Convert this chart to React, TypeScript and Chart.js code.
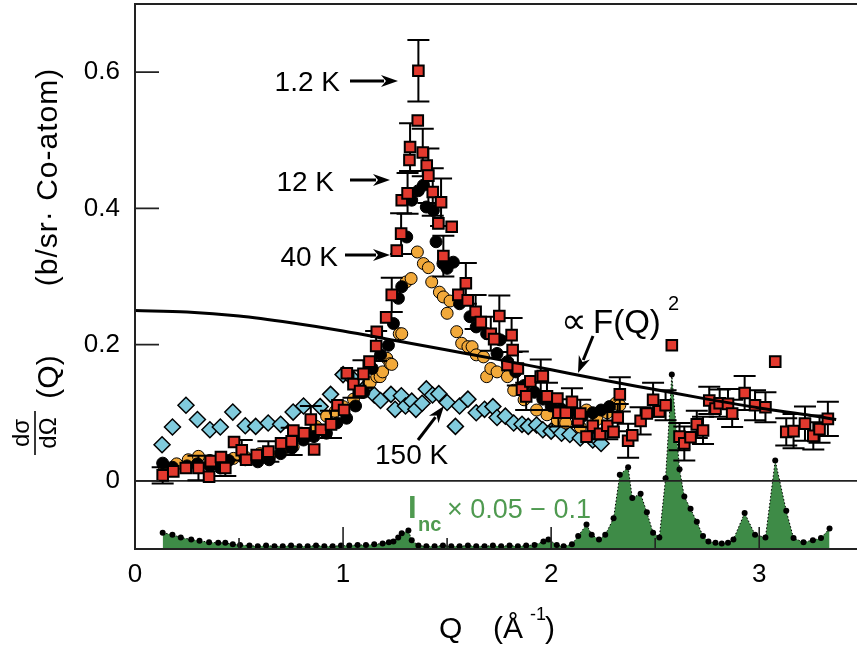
import React, { useEffect, useRef } from 'react';
import { Chart, registerables } from 'chart.js';

Chart.register(...registerables);

const FONT = '"Liberation Sans", Arial, Helvetica, sans-serif';

// axis ticks
const xTicks = [0, 1, 2, 3];
const xMinorTicks = [0.5, 1.5, 2.5];
const yTicks = [0, 0.2, 0.4, 0.6];

// 1.2 K (red squares) with error bars
const q1p2K = [0.133, 0.184, 0.244, 0.305, 0.356, 0.364, 0.413, 0.434, 0.476, 0.513, 0.534, 0.585, 0.641, 0.702, 0.753, 0.761, 0.813, 0.845, 0.861, 0.893, 0.942, 0.973, 1.005, 1.018, 1.05, 1.082, 1.098, 1.127, 1.159, 1.162, 1.207, 1.234, 1.258, 1.279, 1.282, 1.31, 1.319, 1.322, 1.359, 1.362, 1.383, 1.402, 1.41, 1.431, 1.458, 1.471, 1.482, 1.522, 1.554, 1.59, 1.599, 1.637, 1.662, 1.71, 1.726, 1.751, 1.79, 1.81, 1.815, 1.84, 1.86, 1.88, 1.9, 1.95, 1.96, 1.98, 2.03, 2.035, 2.07, 2.1, 2.13, 2.14, 2.17, 2.2, 2.235, 2.27, 2.3, 2.32, 2.33, 2.37, 2.39, 2.43, 2.46, 2.49, 2.52, 2.55, 2.58, 2.617, 2.64, 2.67, 2.7, 2.73, 2.76, 2.79, 2.81, 2.85, 2.87, 2.93, 2.98, 3.03, 3.077, 3.13, 3.165, 3.22, 3.26, 3.29, 3.33];
const v1p2K = [0.008, 0.014, 0.019, 0.019, 0.006, 0.029, 0.035, 0.019, 0.057, 0.045, 0.031, 0.038, 0.043, 0.055, 0.058, 0.074, 0.07, 0.09, 0.046, 0.075, 0.083, 0.111, 0.104, 0.158, 0.142, 0.132, 0.157, 0.175, 0.198, 0.219, 0.24, 0.273, 0.338, 0.363, 0.412, 0.422, 0.471, 0.49, 0.529, 0.602, 0.482, 0.463, 0.448, 0.424, 0.378, 0.409, 0.33, 0.373, 0.273, 0.29, 0.265, 0.248, 0.233, 0.216, 0.208, 0.242, 0.17, 0.214, 0.192, 0.165, 0.134, 0.124, 0.146, 0.153, 0.154, 0.124, 0.121, 0.1, 0.1, 0.116, 0.089, 0.099, 0.065, 0.081, 0.069, 0.081, 0.072, 0.093, 0.127, 0.059, 0.067, 0.088, 0.099, 0.119, 0.102, 0.111, 0.199, 0.065, 0.055, 0.064, 0.083, 0.074, 0.118, 0.106, 0.114, 0.113, 0.099, 0.129, 0.111, 0.108, 0.175, 0.072, 0.073, 0.084, 0.066, 0.076, 0.091];
const e1p2K = [0.012, 0, 0, 0.018, 0, 0, 0, 0.012, 0, 0.015, 0, 0, 0.015, 0, 0.02, 0, 0, 0.02, 0, 0, 0.02, 0, 0, 0, 0.02, 0, 0.02, 0, 0.022, 0, 0, 0.025, 0, 0.03, 0, 0.03, 0, 0.035, 0, 0.045, 0.035, 0, 0.04, 0.035, 0, 0.035, 0.03, 0, 0, 0.03, 0, 0.025, 0, 0.025, 0, 0.03, 0, 0.025, 0, 0.025, 0, 0.02, 0, 0.025, 0, 0.02, 0, 0.02, 0, 0.02, 0, 0.02, 0, 0.02, 0, 0.02, 0, 0.02, 0.025, 0.025, 0, 0.02, 0, 0.025, 0, 0.022, 0, 0.02, 0.025, 0, 0.02, 0.02, 0.02, 0, 0.02, 0.022, 0.02, 0.025, 0.022, 0.022, 0, 0.02, 0.025, 0.025, 0.02, 0.02, 0.025];

// 12 K (black circles)
const q12K = [0.133, 0.18, 0.25, 0.3, 0.36, 0.41, 0.45, 0.53, 0.59, 0.645, 0.7, 0.753, 0.81, 0.86, 0.92, 0.97, 1.017, 1.06, 1.1, 1.14, 1.18, 1.218, 1.242, 1.266, 1.282, 1.306, 1.33, 1.362, 1.386, 1.4, 1.434, 1.447, 1.48, 1.5, 1.53, 1.56, 1.61, 1.64, 1.69, 1.74, 1.755, 1.79, 1.83, 1.87, 1.92, 1.96, 2.0, 2.05, 2.1, 2.15, 2.2, 2.24, 2.28];
const v12K = [0.026, 0.02, 0.022, 0.025, 0.022, 0.019, 0.03, 0.031, 0.028, 0.031, 0.04, 0.048, 0.06, 0.065, 0.07, 0.085, 0.092, 0.11, 0.13, 0.165, 0.185, 0.199, 0.231, 0.268, 0.285, 0.358, 0.412, 0.426, 0.434, 0.402, 0.397, 0.351, 0.319, 0.312, 0.321, 0.26, 0.241, 0.226, 0.216, 0.187, 0.207, 0.175, 0.16, 0.14, 0.13, 0.12, 0.11, 0.105, 0.1, 0.095, 0.1, 0.104, 0.109];

// 40 K (orange circles)
const q40K = [0.14, 0.2, 0.256, 0.305, 0.36, 0.42, 0.473, 0.53, 0.6, 0.65, 0.705, 0.76, 0.82, 0.87, 0.921, 0.962, 1.0, 1.05, 1.09, 1.13, 1.162, 1.178, 1.19, 1.21, 1.226, 1.234, 1.27, 1.282, 1.303, 1.327, 1.357, 1.386, 1.41, 1.426, 1.463, 1.482, 1.5, 1.514, 1.546, 1.57, 1.6, 1.62, 1.64, 1.675, 1.69, 1.71, 1.74, 1.79, 1.82, 1.87, 1.93, 1.98, 2.03, 2.07, 2.14, 2.17, 2.22, 2.27, 2.31, 2.33];
const v40K = [0.02, 0.025, 0.031, 0.036, 0.03, 0.028, 0.033, 0.035, 0.04, 0.038, 0.043, 0.05, 0.065, 0.08, 0.095, 0.102, 0.109, 0.12, 0.13, 0.144, 0.153, 0.153, 0.16, 0.18, 0.172, 0.171, 0.216, 0.216, 0.292, 0.297, 0.336, 0.319, 0.313, 0.292, 0.277, 0.27, 0.246, 0.264, 0.219, 0.202, 0.197, 0.197, 0.185, 0.182, 0.153, 0.165, 0.16, 0.153, 0.133, 0.119, 0.104, 0.097, 0.089, 0.085, 0.079, 0.104, 0.09, 0.1, 0.114, 0.111];

// 150 K (blue diamonds)
const q150K = [0.13, 0.18, 0.245, 0.3, 0.36, 0.41, 0.47, 0.53, 0.58, 0.64, 0.7, 0.76, 0.81, 0.89, 0.94, 1.0, 1.04, 1.1, 1.15, 1.18, 1.23, 1.25, 1.28, 1.3, 1.33, 1.35, 1.38, 1.4, 1.43, 1.46, 1.5, 1.54, 1.56, 1.6, 1.64, 1.68, 1.72, 1.74, 1.78, 1.82, 1.86, 1.89, 1.93, 1.96, 2.0, 2.03, 2.05, 2.09, 2.14, 2.2, 2.24];
const v150K = [0.053, 0.079, 0.111, 0.09, 0.075, 0.079, 0.101, 0.081, 0.08, 0.085, 0.083, 0.101, 0.11, 0.109, 0.127, 0.156, 0.152, 0.135, 0.126, 0.118, 0.127, 0.105, 0.125, 0.11, 0.117, 0.105, 0.114, 0.135, 0.126, 0.128, 0.115, 0.08, 0.11, 0.12, 0.1, 0.105, 0.109, 0.093, 0.095, 0.085, 0.083, 0.08, 0.082, 0.075, 0.073, 0.077, 0.07, 0.068, 0.063, 0.06, 0.055];

// proportional to F(Q)^2 (solid line)
const qFQ = [0, 0.25, 0.5, 0.75, 1.0, 1.25, 1.5, 1.75, 2.0, 2.25, 2.5, 2.75, 3.0, 3.25, 3.37];
const vFQ = [0.25, 0.248, 0.242, 0.232, 0.22, 0.206, 0.192, 0.178, 0.163, 0.148, 0.134, 0.12, 0.107, 0.096, 0.09];

// I_nc x 0.05 - 0.1 (green)
const qInc = [0.133, 0.18, 0.22, 0.27, 0.31, 0.356, 0.4, 0.434, 0.47, 0.505, 0.55, 0.59, 0.63, 0.67, 0.71, 0.75, 0.79, 0.83, 0.87, 0.91, 0.95, 0.99, 1.03, 1.07, 1.11, 1.15, 1.19, 1.22, 1.242, 1.265, 1.282, 1.314, 1.33, 1.362, 1.4, 1.44, 1.48, 1.52, 1.56, 1.6, 1.64, 1.68, 1.72, 1.76, 1.8, 1.84, 1.88, 1.92, 1.963, 1.987, 2.027, 2.06, 2.1, 2.13, 2.17, 2.195, 2.23, 2.26, 2.3, 2.33, 2.37, 2.39, 2.43, 2.46, 2.49, 2.52, 2.55, 2.58, 2.617, 2.64, 2.67, 2.7, 2.73, 2.756, 2.79, 2.82, 2.85, 2.876, 2.93, 2.98, 3.03, 3.077, 3.13, 3.165, 3.213, 3.258, 3.297, 3.338];
const vInc = [-0.076, -0.079, -0.083, -0.086, -0.088, -0.09, -0.091, -0.091, -0.093, -0.094, -0.095, -0.096, -0.095, -0.096, -0.096, -0.095, -0.096, -0.096, -0.095, -0.096, -0.096, -0.095, -0.095, -0.094, -0.094, -0.093, -0.092, -0.09, -0.089, -0.083, -0.077, -0.073, -0.087, -0.095, -0.096, -0.096, -0.095, -0.096, -0.096, -0.095, -0.096, -0.096, -0.095, -0.096, -0.095, -0.096, -0.095, -0.094, -0.089, -0.086, -0.094, -0.096, -0.093, -0.081, -0.064, -0.079, -0.086, -0.079, -0.055, 0.009, 0.02, -0.025, -0.019, -0.046, -0.076, -0.083, 0.004, 0.156, 0.017, -0.023, -0.041, -0.06, -0.081, -0.089, -0.091, -0.092, -0.091, -0.086, -0.047, -0.079, -0.083, 0.03, -0.044, -0.084, -0.09, -0.087, -0.084, -0.07];

const pts = (qs: number[], vs: number[]) => qs.map((q, i) => ({ x: q, y: vs[i] }));

function arrow(ctx: CanvasRenderingContext2D, x1: number, y1: number, x2: number, y2: number) {
  const ang = Math.atan2(y2 - y1, x2 - x1);
  const hl = 17, hw = 6;
  const bx = x2 - hl * Math.cos(ang), by = y2 - hl * Math.sin(ang);
  ctx.save();
  ctx.strokeStyle = '#000';
  ctx.fillStyle = '#000';
  ctx.lineWidth = 3;
  ctx.beginPath();
  ctx.moveTo(x1, y1);
  ctx.lineTo(bx + 3 * Math.cos(ang), by + 3 * Math.sin(ang));
  ctx.stroke();
  ctx.beginPath();
  ctx.moveTo(x2, y2);
  ctx.lineTo(bx - hw * Math.sin(ang), by + hw * Math.cos(ang));
  ctx.lineTo(bx + 5 * Math.cos(ang), by + 5 * Math.sin(ang));
  ctx.lineTo(bx + hw * Math.sin(ang), by - hw * Math.cos(ang));
  ctx.closePath();
  ctx.fill();
  ctx.restore();
}

const customPlugin = {
  id: 'customDecor',
  afterDatasetDraw(chart: any, args: any) {
    const ds = chart.data.datasets[args.index];
    if (ds.label !== 'Inc') return;
    const { ctx, chartArea } = chart;
    const y0 = chart.scales.y.getPixelForValue(0);
    ctx.save();
    ctx.strokeStyle = '#222';
    ctx.lineWidth = 1.6;
    ctx.beginPath();
    ctx.moveTo(chartArea.left, y0);
    ctx.lineTo(chartArea.right, y0);
    ctx.stroke();
    ctx.restore();
  },
  beforeDatasetDraw(chart: any, args: any) {
    const ds = chart.data.datasets[args.index];
    if (ds.label !== '1.2 K') return;
    const { ctx } = chart;
    const xs = chart.scales.x, ys = chart.scales.y;
    ctx.save();
    ctx.strokeStyle = '#000';
    ctx.lineWidth = 2;
    q1p2K.forEach((q, i) => {
      const e = e1p2K[i];
      if (!e) return;
      const px = xs.getPixelForValue(q);
      const top = ys.getPixelForValue(v1p2K[i] + e);
      const bot = ys.getPixelForValue(v1p2K[i] - e);
      ctx.beginPath();
      ctx.moveTo(px, top); ctx.lineTo(px, bot);
      ctx.moveTo(px - 11, top); ctx.lineTo(px + 11, top);
      ctx.moveTo(px - 11, bot); ctx.lineTo(px + 11, bot);
      ctx.stroke();
    });
    ctx.restore();
  },
  afterDraw(chart: any) {
    const { ctx, chartArea } = chart;
    const xs = chart.scales.x, ys = chart.scales.y;
    const { left, right, top, bottom } = chartArea;
    ctx.save();
    // frame
    ctx.strokeStyle = '#222';
    ctx.lineWidth = 2;
    ctx.beginPath();
    ctx.moveTo(right, top); ctx.lineTo(left, top); ctx.lineTo(left, bottom); ctx.lineTo(right, bottom);
    ctx.stroke();
    // inward ticks
    ctx.lineWidth = 1.6;
    ctx.beginPath();
    yTicks.forEach((v) => {
      const py = ys.getPixelForValue(v);
      ctx.moveTo(left, py); ctx.lineTo(left + 24, py);
    });
    xTicks.forEach((v) => {
      const px = xs.getPixelForValue(v);
      ctx.moveTo(px, bottom); ctx.lineTo(px, bottom - 22);
    });
    xMinorTicks.forEach((v) => {
      const px = xs.getPixelForValue(v);
      ctx.moveTo(px, bottom); ctx.lineTo(px, bottom - 11);
    });
    ctx.stroke();

    // temperature labels
    ctx.fillStyle = '#000';
    ctx.textBaseline = 'alphabetic';
    ctx.font = `28px ${FONT}`;
    ctx.textAlign = 'right';
    ctx.fillText('1.2 K', 340, 91);
    ctx.fillText('12 K', 334, 191);
    ctx.fillText('40 K', 338, 266);
    ctx.textAlign = 'left';
    ctx.fillText('150 K', 375, 464);
    arrow(ctx, 350, 81, 398, 81);
    arrow(ctx, 350, 180, 390, 180);
    arrow(ctx, 345, 255, 390, 255);
    arrow(ctx, 418, 440, 444, 406);

    // F(Q)^2 annotation
    ctx.font = `36px ${FONT}`;
    ctx.fillText('\u221D', 561, 333);
    ctx.font = `33px ${FONT}`;
    ctx.fillText('F(Q)', 593, 333);
    ctx.font = `20px ${FONT}`;
    ctx.fillText('2', 668, 310);
    arrow(ctx, 593, 336, 578, 373);

    // I_nc label
    ctx.fillStyle = '#4f9a50';
    ctx.font = `bold 31px ${FONT}`;
    ctx.fillText('I', 408, 518);
    ctx.font = `bold 20px ${FONT}`;
    ctx.fillText('nc', 418, 531);
    ctx.font = `27px ${FONT}`;
    ctx.fillText('\u00D7 0.05 \u2212 0.1', 447, 518);

    // x-axis title
    ctx.fillStyle = '#000';
    ctx.font = `30px ${FONT}`;
    ctx.fillText('Q', 439, 638);
    ctx.fillText('(\u00C5', 493, 638);
    ctx.font = `18px ${FONT}`;
    ctx.fillText('-1', 530, 620);
    ctx.font = `30px ${FONT}`;
    ctx.fillText(')', 545, 638);

    // y-axis title (rotated)
    ctx.save();
    ctx.rotate(-Math.PI / 2);
    ctx.textAlign = 'center';
    ctx.textBaseline = 'middle';
    ctx.font = `30px ${FONT}`;
    (ctx as any).letterSpacing = '1px';
    ctx.fillText('(b/sr\u00B7 Co-atom)', -177, 49);
    (ctx as any).letterSpacing = '0px';
    ctx.fillText('(Q)', -377, 50);
    ctx.font = `24px ${FONT}`;
    ctx.fillText('d\u03C3', -433, 22);
    ctx.fillText('d\u03A9', -433, 49);
    ctx.lineWidth = 1.8;
    ctx.beginPath();
    ctx.moveTo(-455, 35); ctx.lineTo(-411, 35);
    ctx.stroke();
    ctx.restore();

    ctx.restore();
  },
};

export default function App() {
  const ref = useRef<HTMLCanvasElement | null>(null);
  useEffect(() => {
    if (!ref.current) return;
    const chart = new Chart(ref.current, {
      type: 'scatter',
      data: {
        datasets: [
          {
            type: 'line',
            label: 'Inc',
            data: pts(qInc, vInc),
            borderColor: '#000',
            borderWidth: 1,
            borderDash: [1.5, 2],
            fill: 'start',
            backgroundColor: '#3e8b47',
            pointRadius: 3,
            pointBackgroundColor: '#000',
            pointBorderWidth: 0,
            tension: 0,
            order: 10,
          } as any,
          {
            label: '150 K',
            data: pts(q150K, v150K),
            pointStyle: 'rectRot',
            pointRadius: 8,
            pointBackgroundColor: '#80cbdd',
            pointBorderColor: '#000',
            pointBorderWidth: 1.5,
            order: 6,
          } as any,
          {
            label: '40 K',
            data: pts(q40K, v40K),
            pointStyle: 'circle',
            pointRadius: 6,
            pointBackgroundColor: '#f2a93a',
            pointBorderColor: '#000',
            pointBorderWidth: 1,
            order: 5,
          } as any,
          {
            label: '12 K',
            data: pts(q12K, v12K),
            pointStyle: 'circle',
            pointRadius: 6,
            pointBackgroundColor: '#000',
            pointBorderColor: '#000',
            pointBorderWidth: 1,
            order: 4,
          } as any,
          {
            label: '1.2 K',
            data: pts(q1p2K, v1p2K),
            pointStyle: 'rect',
            pointRadius: 7.5,
            pointBackgroundColor: '#e2392e',
            pointBorderColor: '#000',
            pointBorderWidth: 2,
            order: 3,
          } as any,
          {
            type: 'line',
            label: 'F(Q)^2',
            data: pts(qFQ, vFQ),
            borderColor: '#000',
            borderWidth: 3,
            pointRadius: 0,
            cubicInterpolationMode: 'monotone',
            fill: false,
            order: 1,
          } as any,
        ],
      },
      options: {
        animation: false,
        responsive: false,
        devicePixelRatio: 1,
        layout: { autoPadding: false, padding: { top: 4, left: 0, right: 0, bottom: 0 } },
        plugins: { legend: { display: false }, tooltip: { enabled: false } },
        scales: {
          x: {
            type: 'linear',
            min: 0,
            max: 3.47,
            grid: { display: false, drawTicks: false },
            border: { display: false },
            afterBuildTicks: (s: any) => { s.ticks = xTicks.map((v) => ({ value: v })); },
            afterFit: (s: any) => { s.height = 98; s.paddingLeft = 0; s.paddingRight = 0; },
            ticks: {
              color: '#000',
              font: { family: FONT, size: 26 },
              padding: 10,
              maxRotation: 0,
              autoSkip: false,
              callback: (v: any) => String(v),
            },
          },
          y: {
            type: 'linear',
            min: -0.1,
            max: 0.7,
            grid: { display: false, drawTicks: false },
            border: { display: false },
            afterBuildTicks: (s: any) => { s.ticks = yTicks.map((v) => ({ value: v })); },
            afterFit: (s: any) => { s.width = 135; s.paddingTop = 0; s.paddingBottom = 0; },
            ticks: {
              color: '#000',
              font: { family: FONT, size: 26 },
              padding: 15,
              autoSkip: false,
              callback: (v: any) => String(v),
            },
          },
        },
      } as any,
      plugins: [customPlugin],
    });
    return () => chart.destroy();
  }, []);
  return (
    <div style={{ position: 'absolute', left: 0, top: 0, width: 857, height: 647, background: '#fff' }}>
      <canvas ref={ref} width={857} height={647} style={{ display: 'block' }} />
    </div>
  );
}
